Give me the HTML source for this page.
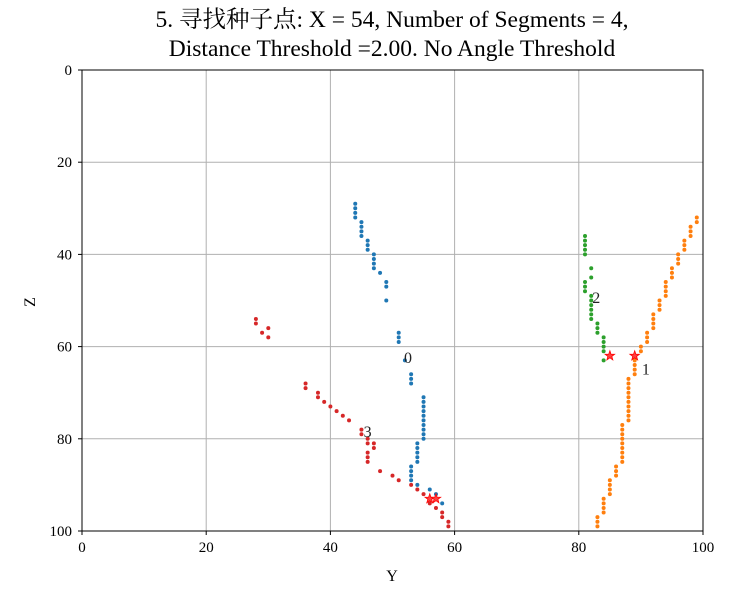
<!DOCTYPE html>
<html><head><meta charset="utf-8"><style>
html,body{margin:0;padding:0;background:#fff;}
svg{display:block;font-family:"Liberation Serif","Noto Serif CJK SC",serif;}
</style></head><body>
<svg id="chart" width="750" height="590" viewBox="0 0 750 590">
<text x="392" y="27" text-anchor="middle" font-size="23.5" fill="#000">5. 寻找种子点: X = 54, Number of Segments = 4,</text>
<text x="392" y="56" text-anchor="middle" font-size="23.5" fill="#000">Distance Threshold =2.00. No Angle Threshold</text>
<g id="grid"></g><g id="marks"></g><g id="axes"></g>
<text x="392" y="581" text-anchor="middle" font-size="16">Y</text>
<text x="35" y="302" text-anchor="middle" font-size="16" transform="rotate(-90 35 302)">Z</text>
</svg>
<script>
const ticks=[0,20,40,60,80,100];
const blueY=[44,44,44,44,45,45,45,45,46,46,46,47,47,47,47,48,49,49,49,51,51,51,52,53,53,53,55,55,55,55,55,55,55,55,55,55,54,54,54,54,54,53,53,53,53,54,56,57,57,58];
const blueZ=[29,30,31,32,33,34,35,36,37,38,39,40,41,42,43,44,46,47,50,57,58,59,63,66,67,68,71,72,73,74,75,76,77,78,79,80,81,82,83,84,85,86,87,88,89,90,91,92,93,94];
const orangeY=[89,89,89,89,88,88,88,88,88,88,88,88,88,88,87,87,87,87,87,87,87,87,87,86,86,86,85,85,85,85,84,84,84,84,83,83,83,90,90,91,91,91,92,92,92,92,93,93,93,94,94,94,94,95,95,95,96,96,96,97,97,97,98,98,98,99,99];
const orangeZ=[63,64,65,66,67,68,69,70,71,72,73,74,75,76,77,78,79,80,81,82,83,84,85,86,87,88,89,90,91,92,93,94,95,96,97,98,99,60,61,57,58,59,53,54,55,56,50,51,52,46,47,48,49,43,44,45,40,41,42,37,38,39,34,35,36,32,33];
const greenY=[81,81,81,81,81,81,81,81,82,82,82,82,82,82,82,82,83,83,83,84,84,84,84,84];
const greenZ=[36,37,38,39,40,46,47,48,43,45,49,50,51,52,53,54,55,56,57,58,59,60,61,63];
const redY=[28,28,29,30,30,36,36,38,38,39,40,41,42,43,45,45,46,46,47,47,46,46,46,48,50,51,53,54,55,56,56,57,58,58,59,59];
const redZ=[54,55,57,56,58,68,69,70,71,72,73,74,75,76,78,79,80,81,81,82,83,84,85,87,88,89,90,91,92,93,94,95,96,97,98,99];
const starY=[56,57,85,89];
const starZ=[93,93,62,62];
const labelTxt=["0","1","2","3"];
const labelY=[52.5,90.8,82.8,46];
const labelZ=[62.5,65,49.5,78.5];
const X0=82,X1=703,Y0=70,Y1=531;
const sx=v=>X0+(v/100)*(X1-X0);
const sy=v=>Y0+(v/100)*(Y1-Y0);
const NS="http://www.w3.org/2000/svg";
function mk(tag,attrs,parent){const e=document.createElementNS(NS,tag);for(const k in attrs)e.setAttribute(k,attrs[k]);parent.appendChild(e);return e;}
const grid=document.getElementById('grid'),marks=document.getElementById('marks'),axes=document.getElementById('axes');
ticks.forEach(t=>{
 let g=mk('line',{x1:sx(t),x2:sx(t),y1:Y0,y2:Y1,stroke:'#b0b0b0','stroke-width':1},grid);
 
 
 let h=mk('line',{x1:X0,x2:X1,y1:sy(t),y2:sy(t),stroke:'#b0b0b0','stroke-width':1},grid);
 
 
 mk('line',{x1:sx(t),x2:sx(t),y1:Y1,y2:Y1+4,stroke:'#000'},axes);
 mk('line',{x1:X0-4,x2:X0,y1:sy(t),y2:sy(t),stroke:'#000'},axes);
 let a=mk('text',{x:sx(t),y:Y1+21,'text-anchor':'middle','font-size':15},axes);a.textContent=t;
 
 
 let b=mk('text',{x:X0-10,y:sy(t)+5,'text-anchor':'end','font-size':15},axes);b.textContent=t;
 
 
});
const fr=mk('rect',{x:X0,y:Y0,width:X1-X0,height:Y1-Y0,fill:'none',stroke:'#000','stroke-width':1},axes);


function series(ys,zs,col,name){ys.forEach((y,i)=>{
 const c=mk('circle',{cx:sx(y),cy:sy(zs[i]),r:2,fill:col},marks);
 
 
});}
series(blueY,blueZ,'#1f77b4','segment-0-point');
series(orangeY,orangeZ,'#ff7f0e','segment-1-point');
series(greenY,greenZ,'#2ca02c','segment-2-point');
series(redY,redZ,'#d62728','segment-3-point');
starY.forEach((y,i)=>{
 const cx=sx(y),cy=sy(starZ[i]);let p=[];
 for(let k=0;k<10;k++){const r=k%2?2:5,a=-Math.PI/2+k*Math.PI/5;p.push((cx+r*Math.cos(a)).toFixed(1)+','+(cy+r*Math.sin(a)).toFixed(1));}
 const s=mk('polygon',{points:p.join(' '),fill:'#ff4040',stroke:'#ff0000','stroke-width':0.8},marks);
 
 
});
labelTxt.forEach((t,i)=>{
 const e=mk('text',{x:sx(labelY[i]),y:sy(labelZ[i])+5,'text-anchor':'middle','font-size':16,fill:'#222'},marks);
 e.textContent=t;
 
 
});
</script>
</body></html>
